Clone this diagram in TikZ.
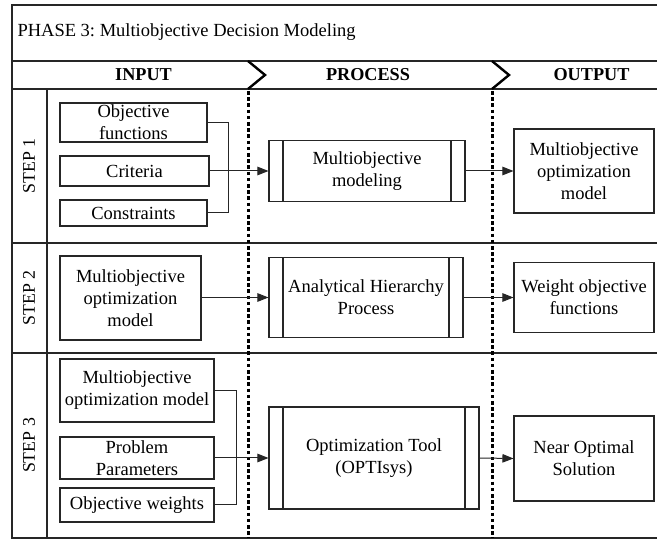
\documentclass[tikz,border=0pt]{standalone}
\usepackage{fontspec}
\setmainfont{Liberation Serif}
\usetikzlibrary{arrows.meta}
\frenchspacing

\tikzset{
  frameline/.style={draw=black!85, line width=1.2pt},
  chevron/.style={draw=black, line width=2.4pt, line join=miter},
  divider/.style={draw=black, line width=3pt, dash pattern=on 3.6pt off 2.6pt},
  inbox/.style={draw=black!85, line width=1.1pt, rectangle, inner sep=0pt,
    align=center, font=\fontsize{18.5}{22}\selectfont},
  procbox/.style={inbox, path picture={
      \draw[black!85, line width=1.1pt]
        ([xshift=14pt]path picture bounding box.north west) --
        ([xshift=14pt]path picture bounding box.south west)
        ([xshift=-14pt]path picture bounding box.north east) --
        ([xshift=-14pt]path picture bounding box.south east);}},
  link/.style={draw=black!85, line width=1pt},
  flow/.style={link, -{Triangle[length=11pt,width=8.5pt]}},
  header/.style={font=\fontsize{18.2}{22}\selectfont\bfseries, anchor=center},
  steplabel/.style={font=\fontsize{17.8}{22}\selectfont, rotate=90, anchor=center},
  titletext/.style={font=\fontsize{18.5}{22}\selectfont, anchor=west}
}

\begin{document}
\begin{tikzpicture}[x=1pt, y=-1pt]
  \useasboundingbox (0,0) rectangle (657,540);
  \fill[white] (0,0) rectangle (657,540);

  % outer frame and table rules
  \draw[frameline] (660,5) -- (12,5) -- (12,538) -- (660,538);
  \draw[frameline] (12,61) -- (660,61);
  \draw[frameline] (12,89) -- (660,89);
  \draw[frameline] (12,243) -- (660,243);
  \draw[frameline] (12,353) -- (660,353);
  \draw[frameline] (47,89) -- (47,538);

  % title and column headers
  \node[titletext] (title) at (14,32) {PHASE 3: Multiobjective Decision Modeling};
  \node[header] (hin)  at (143.5,75) {INPUT};
  \node[header] (hpr)  at (368,75)   {PROCESS};
  \node[header] (hout) at (591.5,75) {OUTPUT};

  % step labels
  \node[steplabel] (s1) at (29,166) {STEP 1};
  \node[steplabel] (s2) at (29,298) {STEP 2};
  \node[steplabel] (s3) at (29,445.5) {STEP 3};

  % phase separators: chevron in the header, dotted line below
  \draw[chevron] (248,61) -- (265,75) -- (248,89);
  \draw[chevron] (492,61) -- (509,75) -- (492,89);
  \draw[divider] (248,91) -- (248,538);
  \draw[divider] (492,91) -- (492,538);

  % step 1
  \node[inbox, minimum width=147pt, minimum height=39pt] (o1) at (133.5,122.5) {Objective\\functions};
  \node[inbox, minimum width=149pt, minimum height=30pt] (c1) at (134.5,171) {Criteria};
  \node[inbox, minimum width=147pt, minimum height=26pt] (k1) at (133.5,213) {Constraints};
  \node[procbox, minimum width=196pt, minimum height=61pt] (p1) at (367,171) {Multiobjective\\modeling};
  \node[inbox, minimum width=140pt, minimum height=84pt] (r1) at (584,171) {Multiobjective\\optimization\\model};
  \coordinate (j1) at (228,171);
  \draw[link] (o1.east) -| (j1);
  \draw[link] (k1.east) -| (j1);
  \draw[flow] (c1.east) -- (p1.west);
  \draw[flow] (p1.east) -- (r1.west);

  % step 2
  \node[inbox, minimum width=141pt, minimum height=84pt] (i2) at (130.5,298) {Multiobjective\\optimization\\model};
  \node[procbox, minimum width=194pt, minimum height=80pt] (p2) at (366,297.5) {Analytical Hierarchy\\Process};
  \node[inbox, minimum width=140pt, minimum height=70pt] (r2) at (584,297.5) {Weight objective\\functions};
  \draw[flow] (i2.east) -- ++(21,0) |- (p2.west);
  \draw[flow] (p2.east) -- (r2.west);

  % step 3
  \node[inbox, minimum width=154pt, minimum height=63pt] (a3) at (137,390.5) {Multiobjective\\optimization model};
  \node[inbox, minimum width=154pt, minimum height=42pt] (b3) at (137,458) {Problem\\Parameters};
  \node[inbox, minimum width=154pt, minimum height=34pt] (w3) at (137,505) {Objective weights};
  \node[procbox, minimum width=210pt, minimum height=102pt] (p3) at (374,458) {Optimization Tool\\(OPTIsys)};
  \node[inbox, minimum width=140pt, minimum height=85pt] (r3) at (584,458.5) {Near Optimal\\Solution};
  \coordinate (j3) at (236,458);
  \draw[link] (a3.east) -| (j3);
  \draw[link] (w3.east) -| (j3);
  \draw[flow] (b3.east) -- (p3.west);
  \draw[flow] (p3.east) -- (r3.west);
\end{tikzpicture}
\end{document}
